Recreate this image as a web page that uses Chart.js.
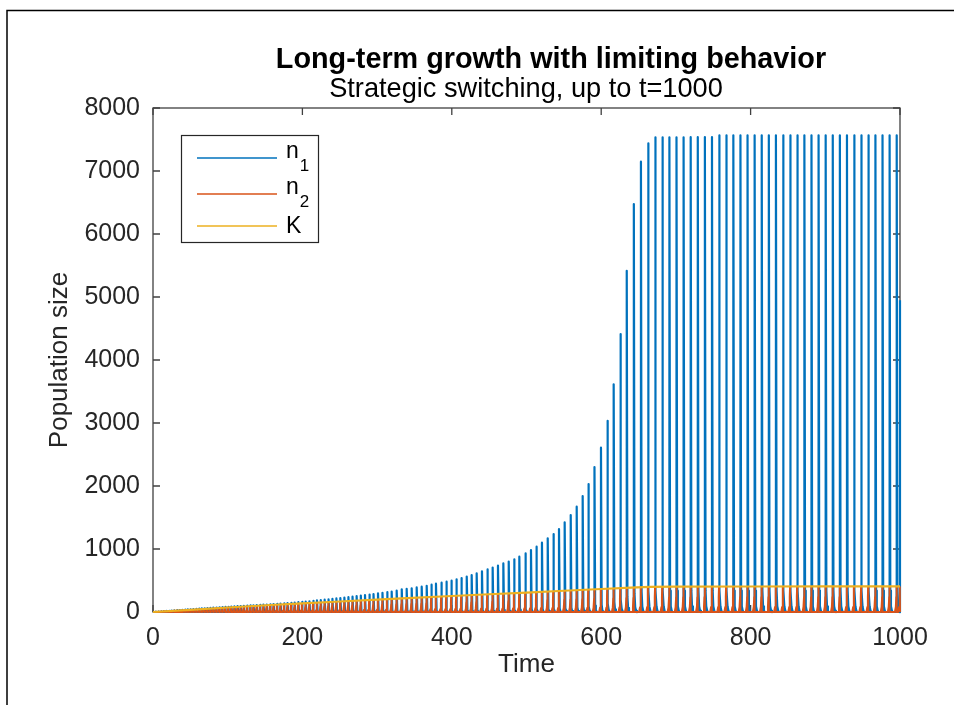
<!DOCTYPE html>
<html>
<head>
<meta charset="utf-8">
<script src="https://cdn.jsdelivr.net/npm/chart.js@4.4.1/dist/chart.umd.min.js"></script>
<style>
  html, body { margin: 0; padding: 0; background: #fff; }
  #wrap { width: 954px; height: 705px; }
</style>
</head>
<body>
<div id="wrap"><canvas id="chart" width="954" height="705"></canvas></div>
<script>
const titleText = 'Long-term growth with limiting behavior';
const subtitleText = 'Strategic switching, up to t=1000';
const xLabel = 'Time';
const yLabel = 'Population size';
const xTicks = [0, 200, 400, 600, 800, 1000];
const yTicks = [0, 1000, 2000, 3000, 4000, 5000, 6000, 7000, 8000];
const seriesLabels = ['n_1', 'n_2', 'K'];
const seriesColors = ['#0072BD', '#D95319', '#EDB120'];

// times at which n1 jumps (switching events)
const spikeTimes = [
  4, 7.5, 11, 14.5, 18, 21.5, 25, 28.6, 32.2, 35.8, 39.4,
  43, 46.7, 50.4, 54.1, 57.8, 61.6, 65.4, 69.2, 73,
  76.9, 80.8, 84.7, 88.7, 92.7, 96.7,
  100.8, 104.9, 109, 113.2, 117.4, 121.6, 125.9, 130.2, 134.5, 138.9,
  143.3, 147.8, 152.3, 156.8, 161.4, 166, 170.7, 175.4, 180.1, 184.9,
  189.7, 194.6, 199.5, 204.4, 209.4, 214.4, 219.5, 224.6, 229.8, 235,
  240.2, 245.5, 250.8, 256.2, 261.6, 267.1, 272.6, 278.2, 283.8, 289.5,
  295.2, 301.2, 307.2, 313.3, 319.5, 326.2,
  333, 339.6, 346.3, 353, 359.7, 366.4, 372.5, 378.8, 385.9, 392.6,
  399.3, 406, 412.7, 420, 426.6, 433.3, 440.4, 447.5, 454.7, 461.8,
  469, 476.2, 483.3, 490.4, 498.4, 506, 513.1, 520.7, 528.4, 535.9,
  543.5, 551.1, 559.2, 567.2, 575.2, 582.7, 591, 599.7, 608.2, 616.7,
  625.6,
  634.2, 643.7, 653.2, 662.7, 672.2, 681.8, 691.3, 700.8, 710.3, 719.8,
  729.3, 738.8, 748.3, 757.8, 767.3, 776.9, 786.4, 795.9, 805.4, 814.9,
  824.4, 833.9, 843.4, 852.9, 862.4, 872, 881.5, 891, 900.5, 910,
  919.5, 929, 938.5, 948, 957.5, 967.1, 976.6, 986.1, 995.6,
  1000
];

// n1 value reached at each jump
const n1Peaks = [
  5, 8, 11, 14, 17, 20, 23, 26, 29, 32, 35,
  38, 41, 44, 47, 50, 53, 56, 59, 62,
  65, 68, 71, 74, 77, 80,
  83, 86, 89, 92, 95, 98, 101, 104, 107, 110,
  113, 116, 119, 122, 126, 130, 134, 138, 142, 147,
  151, 156, 161, 166, 171, 177, 183, 189, 195, 201,
  208, 215, 222, 229, 236, 244, 252, 260, 268, 277,
  286, 295, 305, 315, 325, 340,
  360, 368, 377, 390, 402, 417, 433, 449, 465, 481,
  498, 518, 540, 562, 587, 614, 645, 676, 705, 736,
  771, 801, 837, 878, 930, 983, 1037, 1100, 1169, 1238,
  1317, 1423, 1540, 1672, 1841, 2032, 2300, 2608, 3036, 3614,
  4413,
  5417, 6476, 7148, 7439, 7535, 7535, 7535, 7536, 7536, 7537,
  7537, 7538, 7538, 7566, 7566, 7566, 7566, 7566, 7566, 7566,
  7566, 7566, 7566, 7566, 7566, 7566, 7566, 7566, 7566, 7566,
  7566, 7566, 7566, 7566, 7566, 7566, 7566, 7566, 7566,
  4950
];

// n2 value reached just before each jump
const n2Peaks = [
  3, 5, 8, 10, 12, 15, 17, 20, 22, 25, 27,
  29, 32, 35, 37, 40, 42, 45, 47, 50,
  53, 55, 58, 61, 64, 66,
  69, 72, 75, 78, 80, 83, 86, 89, 92, 95,
  98, 101, 104, 108, 110, 113, 116, 118, 121, 124,
  127, 130, 132, 135, 138, 141, 144, 147, 150, 153,
  156, 159, 162, 166, 169, 172, 175, 178, 182, 185,
  188, 192, 195, 199, 202, 206,
  210, 214, 218, 221, 225, 229, 232, 235, 239, 243,
  246, 250, 254, 258, 261, 265, 268, 272, 276, 280,
  284, 288, 292, 296, 300, 304, 308, 312, 316, 320,
  324, 328, 333, 337, 341, 345, 350, 355, 359, 364,
  369,
  373, 378, 383, 389, 390, 391, 392, 392, 393, 393,
  393, 394, 394, 395, 395, 395, 395, 395, 395, 395,
  395, 395, 395, 395, 395, 395, 395, 395, 395, 395,
  395, 395, 395, 395, 395, 395, 395, 395, 395,
  395
];

// limiting level K
const kTimes = [0, 50, 100, 157, 200, 250, 300, 333, 400, 450, 500, 550, 600, 640, 665, 700, 800, 900, 1000];
const kValues = [0, 35, 71, 111, 137, 167, 197, 217, 254, 282, 309, 337, 365, 387, 400, 403, 405, 406, 407];

// shape of one cycle: fast decay of n1 after the jump, fast rise of n2 before it
const n1TailDt = [0, 0.9, 1.8, 3, 4.2];
const n1TailFrac = [1, 0.045, 0.012, 0.003, 0];
const n2RiseDt = [-2.4, -1.2, -0.5, -0.1];
const n2RiseFrac = [0, 0.2, 0.6, 1];

const n1Data = [];
const n2Data = [];
spikeTimes.forEach((t, i) => {
  const next = i + 1 < spikeTimes.length ? spikeTimes[i + 1] : 1000;
  const prev = i > 0 ? spikeTimes[i - 1] : 0;
  const gap = next - t;
  const before = t - prev;
  // n2 rises up to its peak, then is emptied at the jump
  n2RiseDt.forEach((d, k) => {
    if (-d < before * 0.6 || k === n2RiseDt.length - 1) {
      n2Data.push({ x: t + d, y: n2Peaks[i] * n2RiseFrac[k] });
    }
  });
  n2Data.push({ x: t, y: 0 });
  // n1 jumps to its peak and decays
  n1Data.push({ x: t, y: 0 });
  n1TailDt.forEach((d, k) => {
    if (t + d <= 1000 && (d === 0 || d < gap * 0.75)) {
      n1Data.push({ x: t + d, y: n1Peaks[i] * n1TailFrac[k] });
    }
  });
});
const kData = kTimes.map((t, i) => ({ x: t, y: kValues[i] }));

const FONT = '"Liberation Sans", Arial, Helvetica, sans-serif';

const frame = {
  id: 'frame',
  beforeDatasetsDraw(chart) {
    const { ctx, chartArea: a, scales } = chart;
    ctx.save();
    // outer frame of the figure
    ctx.strokeStyle = '#000';
    ctx.lineWidth = 1.5;
    ctx.beginPath();
    ctx.moveTo(954, 10.5);
    ctx.lineTo(7, 10.5);
    ctx.lineTo(7, 705);
    ctx.stroke();
    // axes box with inward ticks
    ctx.strokeStyle = '#404040';
    ctx.lineWidth = 1.3;
    ctx.strokeRect(a.left, a.top, a.right - a.left, a.bottom - a.top);
    ctx.beginPath();
    xTicks.forEach(v => {
      const x = scales.x.getPixelForValue(v);
      ctx.moveTo(x, a.bottom); ctx.lineTo(x, a.bottom - 7);
      ctx.moveTo(x, a.top); ctx.lineTo(x, a.top + 7);
    });
    yTicks.forEach(v => {
      const y = scales.y.getPixelForValue(v);
      ctx.moveTo(a.left, y); ctx.lineTo(a.left + 7, y);
      ctx.moveTo(a.right, y); ctx.lineTo(a.right - 7, y);
    });
    ctx.stroke();
    ctx.restore();
  },
  afterDraw(chart) {
    const { ctx, chartArea: a } = chart;
    ctx.save();
    ctx.fillStyle = '#000';
    ctx.textAlign = 'center';
    ctx.textBaseline = 'alphabetic';
    ctx.font = 'bold 28.8px ' + FONT;
    ctx.fillText(titleText, 551, 68);
    ctx.font = '27.2px ' + FONT;
    ctx.fillText(subtitleText, 526, 97);
    ctx.fillStyle = '#262626';
    ctx.font = '26px ' + FONT;
    ctx.textBaseline = 'middle';
    ctx.fillText(xLabel, (a.left + a.right) / 2, 665);
    ctx.translate(60, (a.top + a.bottom) / 2);
    ctx.rotate(-Math.PI / 2);
    ctx.fillText(yLabel, 0, 0);
    ctx.restore();

    // legend
    ctx.save();
    ctx.fillStyle = '#fff';
    ctx.fillRect(181, 135, 137, 107);
    ctx.strokeStyle = '#262626';
    ctx.lineWidth = 1.2;
    ctx.strokeRect(181.5, 135.5, 137, 107);
    const lineY = [158, 194, 226];
    const baseY = [158, 194, 233];
    chart.data.datasets.forEach((ds, i) => {
      ctx.strokeStyle = ds.borderColor;
      ctx.lineWidth = 1.6;
      ctx.beginPath();
      ctx.moveTo(197, lineY[i]);
      ctx.lineTo(277, lineY[i]);
      ctx.stroke();
      const parts = ds.label.split('_');
      ctx.fillStyle = '#000';
      ctx.textAlign = 'left';
      ctx.textBaseline = 'alphabetic';
      ctx.font = '23px ' + FONT;
      ctx.fillText(parts[0], 286, baseY[i]);
      if (parts[1]) {
        const w = ctx.measureText(parts[0]).width;
        ctx.font = '17px ' + FONT;
        ctx.fillText(parts[1], 287 + w, baseY[i] + 13);
      }
    });
    ctx.restore();
  }
};

new Chart(document.getElementById('chart'), {
  type: 'line',
  data: {
    datasets: [
      { label: seriesLabels[0], data: n1Data, borderColor: seriesColors[0], order: 3, borderWidth: 2.2 },
      { label: seriesLabels[1], data: n2Data, borderColor: seriesColors[1], order: 2, borderWidth: 2 },
      { label: seriesLabels[2], data: kData, borderColor: seriesColors[2], order: 1, borderWidth: 2.2 }
    ]
  },
  options: {
    responsive: false,
    animation: false,
    parsing: false,
    normalized: true,
    datasets: {
      line: { pointRadius: 0, tension: 0, clip: 2, borderJoinStyle: 'round' }
    },
    layout: { padding: { left: 0, top: 108, right: 54, bottom: 0 } },
    plugins: { legend: { display: false }, tooltip: { enabled: false } },
    scales: {
      x: {
        type: 'linear', min: 0, max: 1000,
        grid: { display: false, drawTicks: false },
        border: { display: false },
        afterBuildTicks: s => { s.ticks = xTicks.map(v => ({ value: v })); },
        afterFit: s => { s.height = 93; },
        ticks: { color: '#262626', padding: 11, maxRotation: 0, font: { family: FONT, size: 25 }, callback: v => String(v) }
      },
      y: {
        type: 'linear', min: 0, max: 8000,
        grid: { display: false, drawTicks: false },
        border: { display: false },
        afterBuildTicks: s => { s.ticks = yTicks.map(v => ({ value: v })); },
        afterFit: s => { s.width = 153; },
        ticks: { color: '#262626', padding: 13, font: { family: FONT, size: 25 }, callback: v => String(v) }
      }
    }
  },
  plugins: [frame]
});
</script>
</body>
</html>
